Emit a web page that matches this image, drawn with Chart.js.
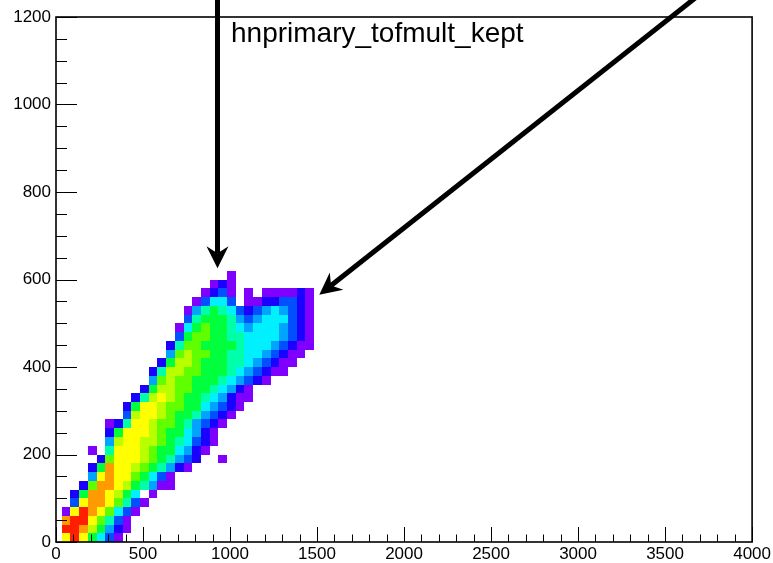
<!DOCTYPE html>
<html>
<head>
<meta charset="utf-8">
<script src="https://cdn.jsdelivr.net/npm/chart.js@4.4.1/dist/chart.umd.min.js"></script>
<style>
  html, body { margin: 0; padding: 0; background: #ffffff; }
  #wrap { width: 773px; height: 563px; }
</style>
</head>
<body>
<div id="wrap"><canvas id="c" width="773" height="563"></canvas></div>
<script>
// ---------------- data ----------------
const TITLE = 'hnprimary_tofmult_kept';
const X_TICK_VALUES = [0, 500, 1000, 1500, 2000, 2500, 3000, 3500, 4000];
const Y_TICK_VALUES = [0, 200, 400, 600, 800, 1000, 1200];
const X_MINOR_STEP = 100;
const Y_MINOR_STEP = 50;

// histogram binning (x bins start at 33, 50 wide; y bins 20 wide)
const X_BIN_LOW = 33;
const X_BIN_WIDTH = 50;
const Y_BIN_WIDTH = 20;

// colour level of each bin (1 = lowest ... C = highest), '.' = empty
// first string = top row (y 600-620), last string = bottom row (y 0-20)
const LEVEL_ROWS = [
  "...................1.........", // 600-620
  ".................121.........", // 580-600
  "................1231.1.111121", // 560-580
  "...............13553.11223321", // 540-560
  "..............146765323454321", // 520-540
  "..............367776434555321", // 500-520
  ".............1578776545554321", // 480-500
  ".............3788776655554321", // 460-480
  "............26887777655543211", // 440-460
  "............4898877665543211.", // 420-440
  "...........2799877766543211..", // 400-420
  "..........2699887776543211...", // 380-400
  "..........48988777654321.....", // 360-380
  ".........2799887765421.......", // 340-360
  "........269A9877654211.......", // 320-340
  ".......27AA9887754321........", // 300-320
  ".......39AA987764321.........", // 280-300
  ".....126AA988764321..........", // 260-280
  ".....27AAA98775421...........", // 240-260
  ".....49AA998765321...........", // 220-240
  "...1.6AAA98775421............", // 200-220
  "....28AAA9876432..1..........", // 180-200
  "...27BAA9876421..............", // 160-180
  "...4ABAA87531................", // 140-160
  "..28BBA976411................", // 120-140
  ".27BBA975.1..................", // 100-120
  ".3ABBA8631...................", // 80-100
  "1ACBA8531....................", // 60-80
  "BCCA8631.....................", // 40-60
  "CCB97421.....................", // 20-40
  "ACA7531......................"  // 0-20
];

// arrows (data coordinates: start -> tip)
const ARROWS = [
  { x0: 928, y0: 1240, x1: 928, y1: 626 },
  { x0: 3675, y0: 1244, x1: 1513, y1: 565 }
];

// ---------------- styles ----------------
const LEVEL_COLORS = {
  1: '#7f00ff', 2: '#1a00ff', 3: '#0050ff', 4: '#00a4ff', 5: '#00f0ff',
  6: '#00ffaa', 7: '#00ff3c', 8: '#60ff00', 9: '#b8ff00', 10: '#ffff00',
  11: '#ff9a00', 12: '#ff1e00'
};
const FONT_FAMILY = "'Liberation Sans', Arial, Helvetica, sans-serif";

// build bin table
const cells = [];
LEVEL_ROWS.forEach((row, k) => {
  const yBin = LEVEL_ROWS.length - 1 - k;
  [...row].forEach((ch, i) => {
    if (ch === '.') return;
    cells.push({
      x: X_BIN_LOW + X_BIN_WIDTH * (i + 0.5),
      y: Y_BIN_WIDTH * (yBin + 0.5),
      level: parseInt(ch, 16)
    });
  });
});

const heatmapPlugin = {
  id: 'heatmap',
  beforeDatasetsDraw(chart) {
    const { ctx, chartArea } = chart;
    const xs = chart.scales.x, ys = chart.scales.y;
    ctx.save();
    ctx.beginPath();
    ctx.rect(chartArea.left, chartArea.top, chartArea.right - chartArea.left, chartArea.bottom - chartArea.top);
    ctx.clip();
    chart.data.datasets[0].data.forEach(c => {
      const l = Math.round(xs.getPixelForValue(c.x - X_BIN_WIDTH / 2));
      const r = Math.round(xs.getPixelForValue(c.x + X_BIN_WIDTH / 2));
      const t = Math.round(ys.getPixelForValue(c.y + Y_BIN_WIDTH / 2));
      const b = Math.round(ys.getPixelForValue(c.y - Y_BIN_WIDTH / 2));
      ctx.fillStyle = LEVEL_COLORS[c.level];
      ctx.fillRect(l, t, r - l, b - t);
    });
    ctx.restore();
  }
};

const framePlugin = {
  id: 'frame',
  afterDatasetsDraw(chart) {
    const { ctx, chartArea } = chart;
    const xs = chart.scales.x, ys = chart.scales.y;
    ctx.save();
    ctx.strokeStyle = '#000';
    ctx.lineWidth = 1;
    ctx.beginPath();
    // x ticks (pointing up from bottom)
    for (let v = xs.min; v <= xs.max + 1e-6; v += X_MINOR_STEP) {
      const px = Math.round(xs.getPixelForValue(v)) + 0.5;
      const major = X_TICK_VALUES.includes(v);
      const len = major ? 15 : 7.5;
      ctx.moveTo(px, chartArea.bottom);
      ctx.lineTo(px, chartArea.bottom - len);
    }
    // y ticks (pointing right from left)
    for (let v = ys.min; v <= ys.max + 1e-6; v += Y_MINOR_STEP) {
      const py = Math.round(ys.getPixelForValue(v)) + 0.5;
      const major = Y_TICK_VALUES.includes(v);
      const len = major ? 21 : 11;
      ctx.moveTo(chartArea.left, py);
      ctx.lineTo(chartArea.left + len, py);
    }
    ctx.stroke();
    ctx.lineWidth = 1.6;
    ctx.strokeRect(chartArea.left, chartArea.top, chartArea.right - chartArea.left, chartArea.bottom - chartArea.top);
    ctx.restore();
  },
  afterDraw(chart) {
    const { ctx, chartArea } = chart;
    const xs = chart.scales.x, ys = chart.scales.y;
    ctx.save();
    // title
    ctx.fillStyle = '#000';
    ctx.font = '28px ' + FONT_FAMILY;
    ctx.textBaseline = 'alphabetic';
    ctx.textAlign = 'left';
    ctx.fillText(TITLE, chartArea.left + 175, chartArea.top + 25);
    // arrows
    ARROWS.forEach(a => {
      const x0 = xs.getPixelForValue(a.x0), y0 = ys.getPixelForValue(a.y0);
      const x1 = xs.getPixelForValue(a.x1), y1 = ys.getPixelForValue(a.y1);
      const dx = x1 - x0, dy = y1 - y0;
      const L = Math.hypot(dx, dy);
      const ux = dx / L, uy = dy / L;
      const nx = -uy, ny = ux;
      const headLen = 22, headHalf = 11, notch = 15;
      ctx.strokeStyle = '#000';
      ctx.lineWidth = 5;
      ctx.beginPath();
      ctx.moveTo(x0, y0);
      ctx.lineTo(x1 - ux * notch, y1 - uy * notch);
      ctx.stroke();
      ctx.fillStyle = '#000';
      ctx.beginPath();
      ctx.moveTo(x1, y1);
      ctx.lineTo(x1 - ux * headLen + nx * headHalf, y1 - uy * headLen + ny * headHalf);
      ctx.lineTo(x1 - ux * notch, y1 - uy * notch);
      ctx.lineTo(x1 - ux * headLen - nx * headHalf, y1 - uy * headLen - ny * headHalf);
      ctx.closePath();
      ctx.fill();
    });
    ctx.restore();
  }
};

const tickFont = { family: FONT_FAMILY, size: 17 };

new Chart(document.getElementById('c'), {
  type: 'scatter',
  data: {
    datasets: [{
      label: TITLE,
      data: cells,
      pointRadius: 0,
      pointHoverRadius: 0,
      showLine: false
    }]
  },
  options: {
    responsive: false,
    animation: false,
    devicePixelRatio: 1,
    layout: { padding: { top: 17, right: 19, left: 0, bottom: 0 } },
    plugins: { legend: { display: false }, tooltip: { enabled: false }, title: { display: false } },
    events: [],
    scales: {
      x: {
        type: 'linear', min: 0, max: 4000,
        afterBuildTicks: s => { s.ticks = X_TICK_VALUES.map(v => ({ value: v })); },
        ticks: { font: tickFont, color: '#000', padding: 2, maxRotation: 0, autoSkip: false, callback: v => String(v) },
        grid: { display: false, drawTicks: false },
        border: { display: false },
        afterFit: s => { s.height = 21; }
      },
      y: {
        type: 'linear', min: 0, max: 1200,
        afterBuildTicks: s => { s.ticks = Y_TICK_VALUES.map(v => ({ value: v })); },
        ticks: { font: tickFont, color: '#000', padding: 5, autoSkip: false, callback: v => String(v) },
        grid: { display: false, drawTicks: false },
        border: { display: false },
        afterFit: s => { s.width = 56; }
      }
    }
  },
  plugins: [heatmapPlugin, framePlugin]
});
</script>
</body>
</html>
